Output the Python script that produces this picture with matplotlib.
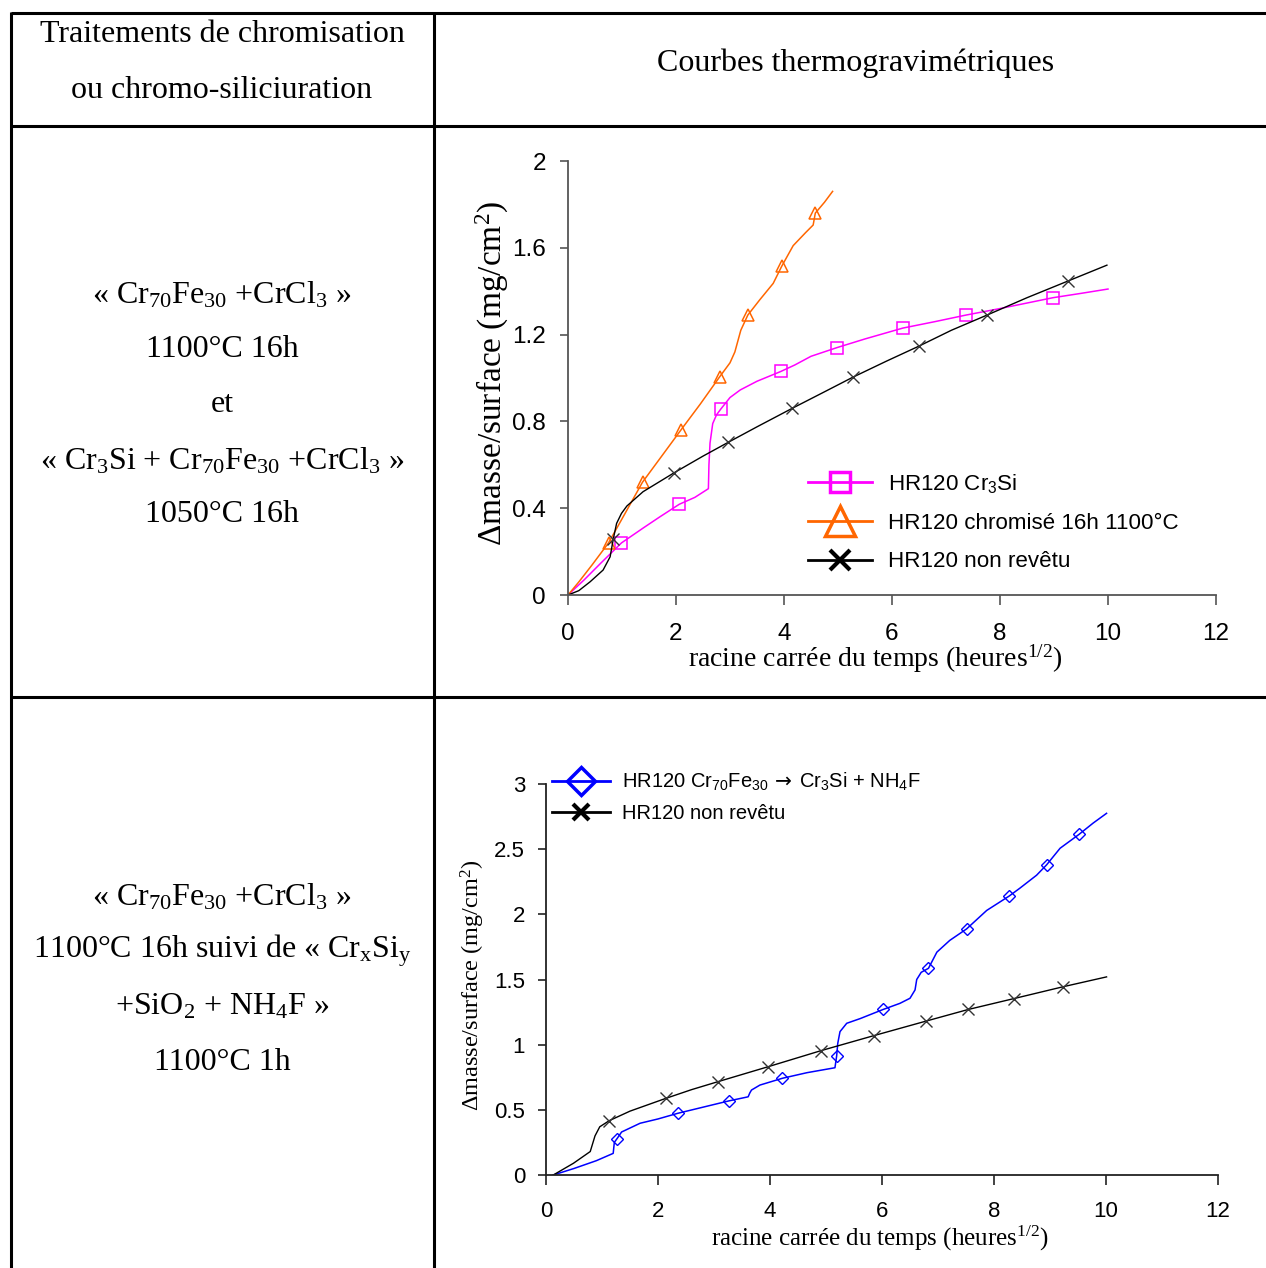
import matplotlib
matplotlib.use("Agg")
import matplotlib.pyplot as plt
from matplotlib.lines import Line2D

W, H = 1266, 1268
SERIF = ["Liberation Serif", "DejaVu Serif"]
SANS = ["Liberation Sans", "DejaVu Sans"]

# ---------------- data: top chart ----------------
top_cr3si_x = [0, 0.3, 0.6, 0.99, 1.4, 1.7, 2.06, 2.35, 2.6, 2.61, 2.63, 2.68, 2.75, 2.83, 3.0, 3.19, 3.5, 3.94,
               4.2, 4.5, 4.98, 5.5, 6.2, 6.8, 7.37, 8.0, 8.98, 9.5, 10.0]
top_cr3si_y = [0, 0.07, 0.145, 0.24, 0.31, 0.36, 0.418, 0.45, 0.49, 0.60, 0.70, 0.79, 0.83, 0.857, 0.91, 0.945,
               0.985, 1.03, 1.06, 1.10, 1.14, 1.18, 1.23, 1.26, 1.29, 1.32, 1.37, 1.39, 1.41]
top_cr3si_mx = [0.99, 2.06, 2.83, 3.94, 4.98, 6.20, 7.37, 8.98]
top_cr3si_my = [0.24, 0.418, 0.857, 1.03, 1.14, 1.23, 1.29, 1.37]

top_chrom_x = [0, 0.2, 0.45, 0.75, 1.05, 1.38, 1.75, 2.09, 2.45, 2.81, 3.0, 3.09, 3.2, 3.33, 3.55, 3.8, 3.96,
               4.17, 4.4, 4.54, 4.58, 4.75, 4.9]
top_chrom_y = [0, 0.06, 0.14, 0.24, 0.373, 0.52, 0.645, 0.76, 0.88, 1.006, 1.07, 1.12, 1.22, 1.29, 1.36, 1.436,
               1.516, 1.61, 1.67, 1.705, 1.76, 1.81, 1.86]
top_chrom_mx = [0.75, 1.38, 2.09, 2.81, 3.33, 3.96, 4.58]
top_chrom_my = [0.24, 0.52, 0.76, 1.006, 1.29, 1.516, 1.76]

top_bare_x = [0, 0.2, 0.41, 0.65, 0.78, 0.84, 0.90, 0.99, 1.09, 1.39, 1.97, 2.5, 2.97, 3.5, 4.15, 4.7, 5.27,
              5.9, 6.5, 7.1, 7.76, 8.5, 9.26, 9.98]
top_bare_y = [0, 0.02, 0.061, 0.115, 0.176, 0.26, 0.33, 0.376, 0.41, 0.476, 0.564, 0.64, 0.704, 0.775, 0.86,
              0.93, 1.003, 1.078, 1.147, 1.22, 1.29, 1.37, 1.447, 1.52]
top_bare_mx = [0.84, 1.97, 2.97, 4.15, 5.27, 6.50, 7.76, 9.26]
top_bare_my = [0.26, 0.564, 0.704, 0.86, 1.003, 1.147, 1.29, 1.447]

top_xticks = [0, 2, 4, 6, 8, 10, 12]
top_yticks = [0, 0.4, 0.8, 1.2, 1.6, 2]
top_yticklabels = ["0", "0.4", "0.8", "1.2", "1.6", "2"]

# ---------------- data: bottom chart ----------------
bot_si_x = [0.13, 0.5, 0.9, 1.20, 1.22, 1.27, 1.35, 1.68, 2.0, 2.35, 2.8, 3.26, 3.61, 3.64, 3.67, 3.82, 4.22,
            4.66, 5.16, 5.19, 5.21, 5.25, 5.37, 5.61, 6.02, 6.32, 6.5, 6.59, 6.62, 6.70, 6.83, 6.98, 7.21, 7.51,
            7.87, 8.27, 8.46, 8.76, 8.94, 9.18, 9.52, 9.77, 10.01]
bot_si_y = [0, 0.05, 0.11, 0.166, 0.25, 0.28, 0.33, 0.397, 0.43, 0.473, 0.52, 0.568, 0.60, 0.63, 0.652, 0.69,
            0.742, 0.785, 0.823, 0.913, 1.01, 1.10, 1.164, 1.20, 1.27, 1.317, 1.356, 1.42, 1.50, 1.555, 1.586,
            1.71, 1.80, 1.888, 2.03, 2.14, 2.20, 2.30, 2.38, 2.507, 2.614, 2.70, 2.775]
bot_si_mx = [1.27, 2.35, 3.26, 4.22, 5.19, 6.02, 6.83, 7.51, 8.27, 8.94, 9.52]
bot_si_my = [0.28, 0.473, 0.568, 0.742, 0.913, 1.27, 1.586, 1.888, 2.14, 2.38, 2.614]

bot_bare_x = [0.13, 0.49, 0.79, 0.875, 0.96, 1.13, 1.5, 2.14, 2.6, 3.07, 3.96, 4.91, 5.86, 6.78, 7.54, 8.35,
              9.24, 10.01]
bot_bare_y = [0, 0.09, 0.18, 0.30, 0.37, 0.417, 0.49, 0.588, 0.655, 0.716, 0.83, 0.954, 1.07, 1.18, 1.27, 1.353,
              1.445, 1.52]
bot_bare_mx = [1.13, 2.14, 3.07, 3.96, 4.91, 5.86, 6.78, 7.54, 8.35, 9.24]
bot_bare_my = [0.417, 0.588, 0.716, 0.83, 0.954, 1.07, 1.18, 1.27, 1.353, 1.445]

bot_xticks = [0, 2, 4, 6, 8, 10, 12]
bot_yticks = [0, 0.5, 1, 1.5, 2, 2.5, 3]
bot_yticklabels = ["0", "0.5", "1", "1.5", "2", "2.5", "3"]

# ---------------- text ----------------
header_left = ["Traitements de chromisation", "ou chromo-siliciuration"]
header_right = "Courbes thermogravimétriques"
cell1_lines = [r"« Cr$\mathregular{_{70}}$Fe$\mathregular{_{30}}$ +CrCl$\mathregular{_3}$ »",
               "1100°C 16h", "et",
               r"« Cr$\mathregular{_3}$Si + Cr$\mathregular{_{70}}$Fe$\mathregular{_{30}}$ +CrCl$\mathregular{_3}$ »",
               "1050°C 16h"]
cell2_lines = [r"« Cr$\mathregular{_{70}}$Fe$\mathregular{_{30}}$ +CrCl$\mathregular{_3}$ »",
               r"1100°C 16h suivi de « Cr$\mathregular{_x}$Si$\mathregular{_y}$",
               r"+SiO$\mathregular{_2}$ + NH$\mathregular{_4}$F »",
               "1100°C 1h"]

fig = plt.figure(figsize=(W / 100, H / 100), dpi=100)
fig.patch.set_facecolor("white")


def fx(px):
    return px / W


def fy(py):
    return 1 - py / H


def hline(y, x0, x1):
    fig.add_artist(Line2D([fx(x0), fx(x1)], [fy(y), fy(y)], transform=fig.transFigure, color="black", lw=2.2,
                          solid_capstyle="butt"))


def vline(x, y0, y1):
    fig.add_artist(Line2D([fx(x), fx(x)], [fy(y0), fy(y1)], transform=fig.transFigure, color="black", lw=2.2,
                          solid_capstyle="butt"))


hline(13, 11, 1266)
hline(126, 11, 1266)
hline(697, 11, 1266)
vline(11, 12, 1268)
vline(434, 12, 1268)

fs_cell = 23
fig.text(fx(222), fy(35), header_left[0], family=SERIF, fontsize=fs_cell, ha="center", va="center")
fig.text(fx(222), fy(91), header_left[1], family=SERIF, fontsize=fs_cell, ha="center", va="center")
fig.text(fx(856), fy(63), header_right, family=SERIF, fontsize=fs_cell, ha="center", va="center")
for line, yy in zip(cell1_lines, [295, 349, 405, 461, 515]):
    fig.text(fx(222), fy(yy), line, family=SERIF, fontsize=fs_cell, ha="center", va="center")
for line, yy in zip(cell2_lines, [897, 951, 1007, 1062]):
    fig.text(fx(222), fy(yy), line, family=SERIF, fontsize=fs_cell, ha="center", va="center")

# ---------------- top chart ----------------
ax1 = fig.add_axes([fx(568), fy(595), (1216 - 568) / W, (595 - 161) / H])
MAG, ORA = "#FF00FF", "#FF6600"
ax1.plot(top_cr3si_x, top_cr3si_y, color=MAG, lw=1.1)
ax1.plot(top_cr3si_mx, top_cr3si_my, ls="none", marker="s", ms=8, mfc="none", mec=MAG, mew=1.1)
ax1.plot(top_chrom_x, top_chrom_y, color=ORA, lw=1.1)
ax1.plot(top_chrom_mx, top_chrom_my, ls="none", marker="^", ms=9, mfc="none", mec=ORA, mew=1.1)
ax1.plot(top_bare_x, top_bare_y, color="black", lw=1.0)
ax1.plot(top_bare_mx, top_bare_my, ls="none", marker="x", ms=8, mec="#333333", mew=1.0)
ax1.set_xlim(0, 12)
ax1.set_ylim(0, 2)
ax1.set_xticks(top_xticks)
ax1.set_xticklabels([str(v) for v in top_xticks])
ax1.set_yticks(top_yticks)
ax1.set_yticklabels(top_yticklabels)
for s in ["top", "right"]:
    ax1.spines[s].set_visible(False)
for s in ["left", "bottom"]:
    ax1.spines[s].set_color("#555555")
    ax1.spines[s].set_linewidth(1.3)
ax1.tick_params(axis="x", direction="out", length=7, width=1.2, color="#555555", pad=13, labelsize=17.5)
ax1.tick_params(axis="y", direction="out", length=6, width=1.2, color="#555555", pad=10, labelsize=17.5)
for lab in ax1.get_xticklabels() + ax1.get_yticklabels():
    lab.set_family(SANS)
ax1.text((492 - 568) / 648, (595 - 373) / 434, r"Δmasse/surface (mg/cm$\mathregular{^2}$)", transform=ax1.transAxes,
         rotation=90, ha="center", va="center", family=SERIF, fontsize=24)
ax1.text((875 - 568) / 648, (595 - 659) / 434, r"racine carrée du temps (heures$\mathregular{^{1/2}}$)",
         transform=ax1.transAxes, ha="center", va="center", family=SERIF, fontsize=20)

h1 = [Line2D([], [], color=MAG, lw=2, marker="s", ms=15, mfc="none", mec=MAG, mew=2.5),
      Line2D([], [], color=ORA, lw=2, marker="^", ms=22, mfc="none", mec=ORA, mew=2.5),
      Line2D([], [], color="black", lw=2, marker="x", ms=14, mec="black", mew=3)]
lab1 = [r"HR120 Cr$\mathregular{_3}$Si", "HR120 chromisé 16h 1100°C", "HR120 non revêtu"]
leg1 = ax1.legend(h1, lab1, loc="upper left", bbox_to_anchor=((808 - 568) / 648, (595 - 472) / 434),
                  frameon=False, borderpad=0, borderaxespad=0, handlelength=2.85, handletextpad=0.75,
                  labelspacing=0.78, prop={"family": SANS, "size": 16.1})

# ---------------- bottom chart ----------------
ax2 = fig.add_axes([fx(546), fy(1175), (1218 - 546) / W, (1175 - 784) / H])
BLU = "#0000FF"
ax2.plot(bot_si_x, bot_si_y, color=BLU, lw=1.1)
ax2.plot(bot_si_mx, bot_si_my, ls="none", marker="D", ms=6, mfc="none", mec=BLU, mew=1.0)
ax2.plot(bot_bare_x, bot_bare_y, color="black", lw=1.0)
ax2.plot(bot_bare_mx, bot_bare_my, ls="none", marker="x", ms=8, mec="#333333", mew=1.0)
ax2.set_xlim(0, 12)
ax2.set_ylim(0, 3)
ax2.set_xticks(bot_xticks)
ax2.set_xticklabels([str(v) for v in bot_xticks])
ax2.set_yticks(bot_yticks)
ax2.set_yticklabels(bot_yticklabels)
for s in ["top", "right"]:
    ax2.spines[s].set_visible(False)
for s in ["left", "bottom"]:
    ax2.spines[s].set_color("#222222")
    ax2.spines[s].set_linewidth(1.3)
ax2.tick_params(axis="x", direction="out", length=7, width=1.2, color="#222222", pad=12, labelsize=16)
ax2.tick_params(axis="y", direction="out", length=6, width=1.2, color="#222222", pad=9, labelsize=16)
for lab in ax2.get_xticklabels() + ax2.get_yticklabels():
    lab.set_family(SANS)
ax2.text((473 - 546) / 672, (1175 - 985) / 391, r"Δmasse/surface (mg/cm$\mathregular{^2}$)", transform=ax2.transAxes,
         rotation=90, ha="center", va="center", family=SERIF, fontsize=17.5)
ax2.text((880 - 546) / 672, (1175 - 1238) / 391, r"racine carrée du temps (heures$\mathregular{^{1/2}}$)",
         transform=ax2.transAxes, ha="center", va="center", family=SERIF, fontsize=18)

h2 = [Line2D([], [], color=BLU, lw=2, marker="D", ms=14, mfc="none", mec=BLU, mew=2.5),
      Line2D([], [], color="black", lw=2, marker="x", ms=12, mec="black", mew=3)]
lab2 = [r"HR120 Cr$\mathregular{_{70}}$Fe$\mathregular{_{30}}\,\rightarrow\,$Cr$\mathregular{_3}$Si + NH$\mathregular{_4}$F",
        "HR120 non revêtu"]
leg2 = ax2.legend(h2, lab2, loc="upper left", bbox_to_anchor=((552 - 546) / 672, (1175 - 771) / 391),
                  frameon=False, borderpad=0, borderaxespad=0, handlelength=2.9, handletextpad=0.6,
                  labelspacing=0.55, prop={"family": SANS, "size": 14.5})

fig.savefig("out.png", dpi=100, facecolor="white")
